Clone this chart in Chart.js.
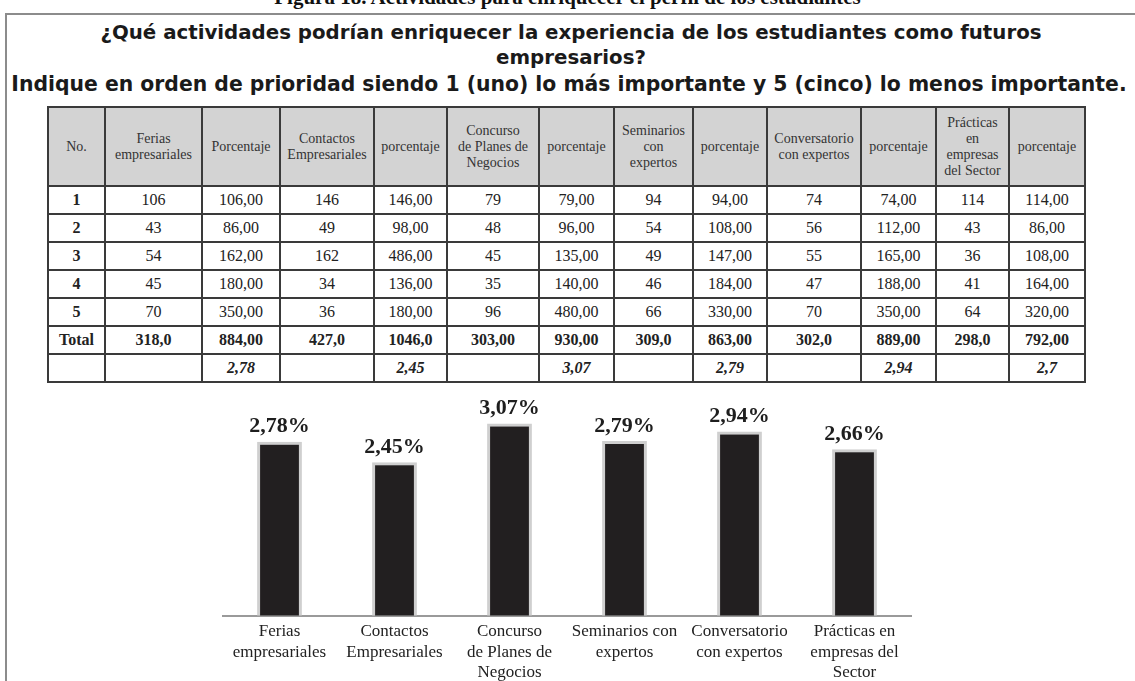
<!DOCTYPE html>
<html>
<head>
<meta charset="utf-8">
<script src="https://cdn.jsdelivr.net/npm/chart.js@4.4.0/dist/chart.umd.min.js"></script>
<style>
  html, body { margin:0; padding:0; width:1135px; height:681px; overflow:hidden; background:#fff; }
  #cut { position:absolute; left:0; width:1135px; top:-15px; text-align:center; font:bold 21px "Liberation Serif", serif; color:#111; }
  #box { position:absolute; left:5px; top:13px; width:1150px; height:700px; border:2px solid #8c8c8c; box-sizing:border-box; }
  .t { position:absolute; text-align:center; font-family:"DejaVu Sans", sans-serif; font-weight:700; color:#1a1a1a; white-space:nowrap; }
  table { position:absolute; left:47px; top:106px; border-collapse:collapse; table-layout:fixed; font-family:"Liberation Serif", serif; color:#222; }
  td, th { border:2px solid #3a3a3a; text-align:center; padding:0; }
  th { background:#d3d3d3; font-weight:normal; font-size:14px; line-height:16px; height:77px; color:#333; }
  td { font-size:16px; height:26px; }
  tr.tot td { font-weight:bold; }
  tr.avg td { font-weight:bold; font-style:italic; }
  #chartWrap { position:absolute; left:222px; top:385px; width:690px; height:310px; }
</style>
</head>
<body>
<div id="cut">Figura 18. Actividades para enriquecer el perfil de los estudiantes</div>
<div id="box"></div>
<div class="t" id="t1">¿Qué actividades podrían enriquecer la experiencia de los estudiantes como futuros</div>
<div class="t" id="t2">empresarios?</div>
<div class="t" id="t3">Indique en orden de prioridad siendo 1 (uno) lo más importante y 5 (cinco) lo menos importante.</div>
<table id="tbl"></table>
<div id="chartWrap"><canvas id="myChart" width="690" height="310"></canvas></div>
<script>
'use strict'

// table headers (one entry per line)
let headers=[['No.'],['Ferias','empresariales'],['Porcentaje'],['Contactos','Empresariales'],['porcentaje'],
['Concurso','de Planes de','Negocios'],['porcentaje'],['Seminarios','con','expertos'],['porcentaje'],
['Conversatorio','con expertos'],['porcentaje'],['Prácticas','en','empresas','del Sector'],['porcentaje']];
let colWidths=[57,97,78,94,73,92,75,79,74,94,75,73,76];

// answers per priority (1..5) for each activity
let ferias=[106,43,54,45,70];
let contactos=[146,49,162,34,36];
let concurso=[79,48,45,35,96];
let seminarios=[94,54,49,46,66];
let conversatorio=[74,56,55,47,70];
let practicas=[114,43,36,41,64];

let feriasPct=['106,00','86,00','162,00','180,00','350,00'];
let contactosPct=['146,00','98,00','486,00','136,00','180,00'];
let concursoPct=['79,00','96,00','135,00','140,00','480,00'];
let seminariosPct=['94,00','108,00','147,00','184,00','330,00'];
let conversatorioPct=['74,00','112,00','165,00','188,00','350,00'];
let practicasPct=['114,00','86,00','108,00','164,00','320,00'];

let totals=['318,0','884,00','427,0','1046,0','303,00','930,00','309,0','863,00','302,0','889,00','298,0','792,00'];
let tableAvg=['2,78','2,45','3,07','2,79','2,94','2,7'];

// chart data
let labels=[['Ferias','empresariales'],['Contactos','Empresariales'],['Concurso','de Planes de','Negocios'],
['Seminarios con','expertos'],['Conversatorio','con expertos'],['Prácticas en','empresas del','Sector']];
let promedios=[2.78,2.45,3.07,2.79,2.94,2.66];

// fit the title lines to the width they have in the picture
function fitTitle(id,target,cx,cy,sizeFrom){
    let el=document.getElementById(id);
    let c=document.createElement('canvas').getContext('2d');
    c.font='bold 20px "DejaVu Sans"';
    let w=c.measureText(sizeFrom||el.textContent).width;
    let size=20*target/w;
    el.style.fontSize=size.toFixed(2)+'px';
    el.style.width='1200px';
    el.style.left=(cx-600)+'px';
    el.style.top=(cy-size*0.6)+'px';
}
fitTitle('t1',942,571,33);
fitTitle('t2',942,571,58,document.getElementById('t1').textContent);
fitTitle('t3',1116,569,84);

function buildTable(){
    let tbl=document.getElementById('tbl');
    let cg=document.createElement('colgroup');
    for(let i=0;i<colWidths.length;i++){
        let c=document.createElement('col');
        c.style.width=colWidths[i]+'px';
        cg.appendChild(c);
    }
    tbl.appendChild(cg);
    let tr=document.createElement('tr');
    for(let i=0;i<headers.length;i++){
        let th=document.createElement('th');
        headers[i].forEach(function(line,j){
            if(j>0){th.appendChild(document.createElement('br'));}
            th.appendChild(document.createTextNode(line));
        });
        tr.appendChild(th);
    }
    tbl.appendChild(tr);
    let counts=[ferias,contactos,concurso,seminarios,conversatorio,practicas];
    let pcts=[feriasPct,contactosPct,concursoPct,seminariosPct,conversatorioPct,practicasPct];
    for(let r=0;r<5;r++){
        tr=document.createElement('tr');
        let td=document.createElement('td');
        td.textContent=r+1;
        td.style.fontWeight='bold';
        tr.appendChild(td);
        for(let k=0;k<counts.length;k++){
            td=document.createElement('td');
            td.textContent=counts[k][r];
            tr.appendChild(td);
            td=document.createElement('td');
            td.textContent=pcts[k][r];
            tr.appendChild(td);
        }
        tbl.appendChild(tr);
    }
    tr=document.createElement('tr');
    tr.className='tot';
    let td=document.createElement('td');
    td.textContent='Total';
    tr.appendChild(td);
    for(let i=0;i<totals.length;i++){
        td=document.createElement('td');
        td.textContent=totals[i];
        tr.appendChild(td);
    }
    tbl.appendChild(tr);
    tr=document.createElement('tr');
    tr.className='avg';
    tr.appendChild(document.createElement('td'));
    for(let k=0;k<tableAvg.length;k++){
        tr.appendChild(document.createElement('td'));
        td=document.createElement('td');
        td.textContent=tableAvg[k];
        tr.appendChild(td);
    }
    tbl.appendChild(tr);
}
buildTable();

// value labels above the bars
let valueLabels={
    id:'valueLabels',
    afterDatasetsDraw(chart){
        let ctx=chart.ctx;
        let meta=chart.getDatasetMeta(0);
        ctx.save();
        ctx.font='bold 22px "Liberation Serif", serif';
        ctx.fillStyle='#1e1e1e';
        ctx.textAlign='center';
        ctx.textBaseline='bottom';
        meta.data.forEach(function(bar,i){
            let txt=promedios[i].toFixed(2).replace('.',',')+'%';
            ctx.fillText(txt,bar.x,bar.y-4);
        });
        ctx.restore();
    }
};

function chartRender(){
var ctx=document.getElementById('myChart').getContext('2d');
var myChart=new Chart(ctx,{
    type:'bar',
    data:{
        labels:labels,
        datasets:[{
            data:promedios,
            backgroundColor:'#221f20',
            borderColor:'#cfcfcf',
            borderWidth:3,
            borderSkipped:'bottom',
            categoryPercentage:1,
            barPercentage:0.39
        }]
    },
    options:{
        responsive:false,
        animation:false,
        devicePixelRatio:1,
        layout:{padding:{top:20,bottom:6,left:0,right:0}},
        plugins:{legend:{display:false},tooltip:{enabled:false}},
        scales:{
            x:{
                grid:{display:false,drawTicks:false},
                border:{color:'#9a9a9a',width:2},
                ticks:{color:'#222',maxRotation:0,autoSkip:false,padding:6,
                    font:{family:'"Liberation Serif", serif',size:17,lineHeight:1.2}}
            },
            y:{display:false,min:0,max:3.365}
        }
    },
    plugins:[valueLabels]
});
}
chartRender();
</script>
</body>
</html>
